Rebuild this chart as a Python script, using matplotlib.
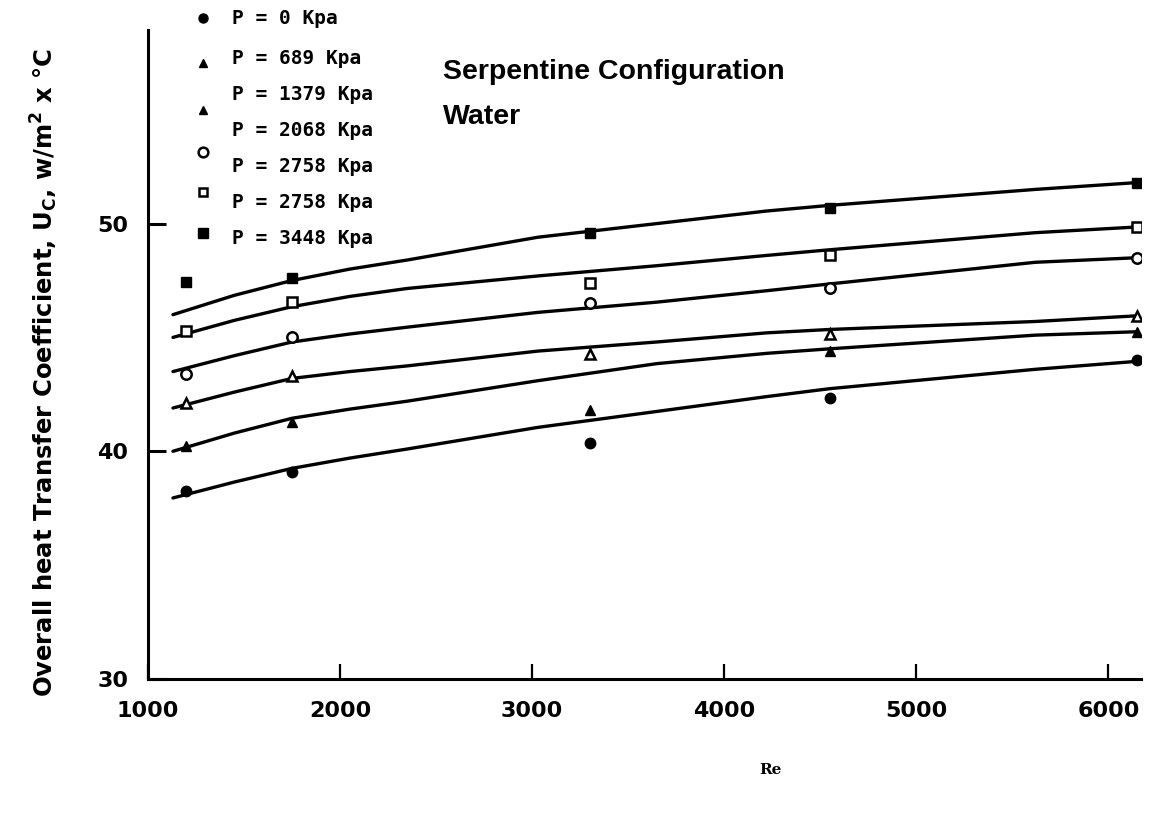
import matplotlib
matplotlib.use('Agg')
import matplotlib.pyplot as plt

# measured points, Re vs U_c (W/m^2 C)
re_points = [1200, 1750, 3300, 4550, 6150]
u_p0 = [38.25, 39.1, 40.35, 42.35, 44.0]
u_p689 = [40.25, 41.3, 41.8, 44.4, 45.25]
u_p2068 = [42.1, 43.3, 44.25, 45.15, 45.95]
u_p2758_circ = [43.4, 45.0, 46.5, 47.15, 48.5]
u_p2758_sq = [45.3, 46.55, 47.4, 48.6, 49.85]
u_p3448 = [47.45, 47.6, 49.6, 50.7, 51.8]

# hand-drawn fit curves
re_curve = [1130, 1450, 1750, 2050, 2350, 3030, 3650, 4220, 4550, 5620, 6150]
fit_p0 = [37.95, 38.65, 39.25, 39.7, 40.1, 41.05, 41.75, 42.4, 42.75, 43.6, 43.95]
fit_p689 = [40.0, 40.8, 41.45, 41.85, 42.2, 43.1, 43.85, 44.3, 44.5, 45.1, 45.25]
fit_p2068 = [41.9, 42.6, 43.2, 43.5, 43.75, 44.4, 44.8, 45.2, 45.35, 45.7, 45.95]
fit_p2758_circ = [43.5, 44.2, 44.8, 45.15, 45.45, 46.1, 46.55, 47.05, 47.35, 48.3, 48.5]
fit_p2758_sq = [45.0, 45.75, 46.35, 46.8, 47.15, 47.7, 48.15, 48.6, 48.85, 49.6, 49.85]
fit_p3448 = [46.0, 46.85, 47.5, 48.0, 48.4, 49.4, 50.0, 50.55, 50.8, 51.5, 51.8]

legend_labels = ['P = 0 Kpa', 'P = 689 Kpa', 'P = 1379 Kpa', 'P = 2068 Kpa',
                 'P = 2758 Kpa', 'P = 2758 Kpa', 'P = 3448 Kpa']

W, H = 1150, 813
fig = plt.figure(figsize=(W / 100, H / 100), dpi=100)
ax = fig.add_axes([148 / W, 1 - 679 / H, (1141 - 148) / W, (679 - 30) / H])

LW = 2.4
series = [
    (u_p0, fit_p0, dict(marker='o', ms=7.5, mfc='black')),
    (u_p689, fit_p689, dict(marker='^', ms=6.5, mfc='black')),
    (u_p2068, fit_p2068, dict(marker='^', ms=6.5, mfc='white', mew=1.8)),
    (u_p2758_circ, fit_p2758_circ, dict(marker='o', ms=7.5, mfc='white', mew=1.8)),
    (u_p2758_sq, fit_p2758_sq, dict(marker='s', ms=6.5, mfc='white', mew=1.8)),
    (u_p3448, fit_p3448, dict(marker='s', ms=7.5, mfc='black')),
]
for pts, fit, mk in series:
    ax.plot(re_curve, fit, color='black', lw=LW, solid_capstyle='round',
            solid_joinstyle='round', zorder=2)
    ax.plot(re_points, pts, ls='none', color='black', mec='black', zorder=3, **mk)

ax.set_xlim(1000, 6170)
ax.set_ylim(30, 58.5)
ax.set_xticks([1000, 2000, 3000, 4000, 5000, 6000])
ax.set_yticks([30, 40, 50])
for side in ('top', 'right'):
    ax.spines[side].set_visible(False)
for side in ('left', 'bottom'):
    ax.spines[side].set_linewidth(2.2)
ax.tick_params(axis='x', direction='in', length=11, width=1.6, pad=16)
ax.tick_params(axis='y', direction='in', length=13, width=2.2, pad=14)
for lab in ax.get_xticklabels() + ax.get_yticklabels():
    lab.set_fontsize(16)
    lab.set_fontweight('bold')
    lab.set_family('DejaVu Sans')

ax.set_ylabel(r'Overall heat Transfer Coefficient, U$_{\mathbf{C}}$, w/m$^{\mathbf{2}}$ x °C',
              fontsize=17.5, fontweight='bold')
ax.yaxis.set_label_coords(-0.089, 0.473)

fig.text(770 / W, 1 - 770 / H, 'Re', family='DejaVu Serif', fontweight='bold',
         fontsize=11, ha='center', va='center')

fig.text(443 / W, 1 - 72 / H, 'Serpentine Configuration', family='Liberation Sans',
         fontweight='bold', fontsize=20.5, ha='left', va='center')
fig.text(443 / W, 1 - 117 / H, 'Water', family='Liberation Sans',
         fontweight='bold', fontsize=20.5, ha='left', va='center')

# legend drawn by hand: markers sit a little off the label rows, as in the original
label_rows = [18, 58, 94, 130, 167, 203, 238]
for lab, yp in zip(legend_labels, label_rows):
    fig.text(232 / W, 1 - yp / H, lab, family='DejaVu Sans Mono', fontweight='bold',
             fontsize=14, ha='left', va='center')
legend_marks = [(18, dict(marker='o', ms=6.5, mfc='black')),
                (63, dict(marker='^', ms=6, mfc='black')),
                (110, dict(marker='^', ms=6, mfc='black')),
                (152, dict(marker='o', ms=7, mfc='white', mew=1.8)),
                (192, dict(marker='s', ms=6, mfc='white', mew=1.8)),
                (233, dict(marker='s', ms=6.5, mfc='black'))]
for yp, mk in legend_marks:
    ax.plot([203 / W], [1 - yp / H], transform=fig.transFigure, clip_on=False,
            color='black', mec='black', ls='none', **mk)

fig.savefig('out.png', dpi=100)
